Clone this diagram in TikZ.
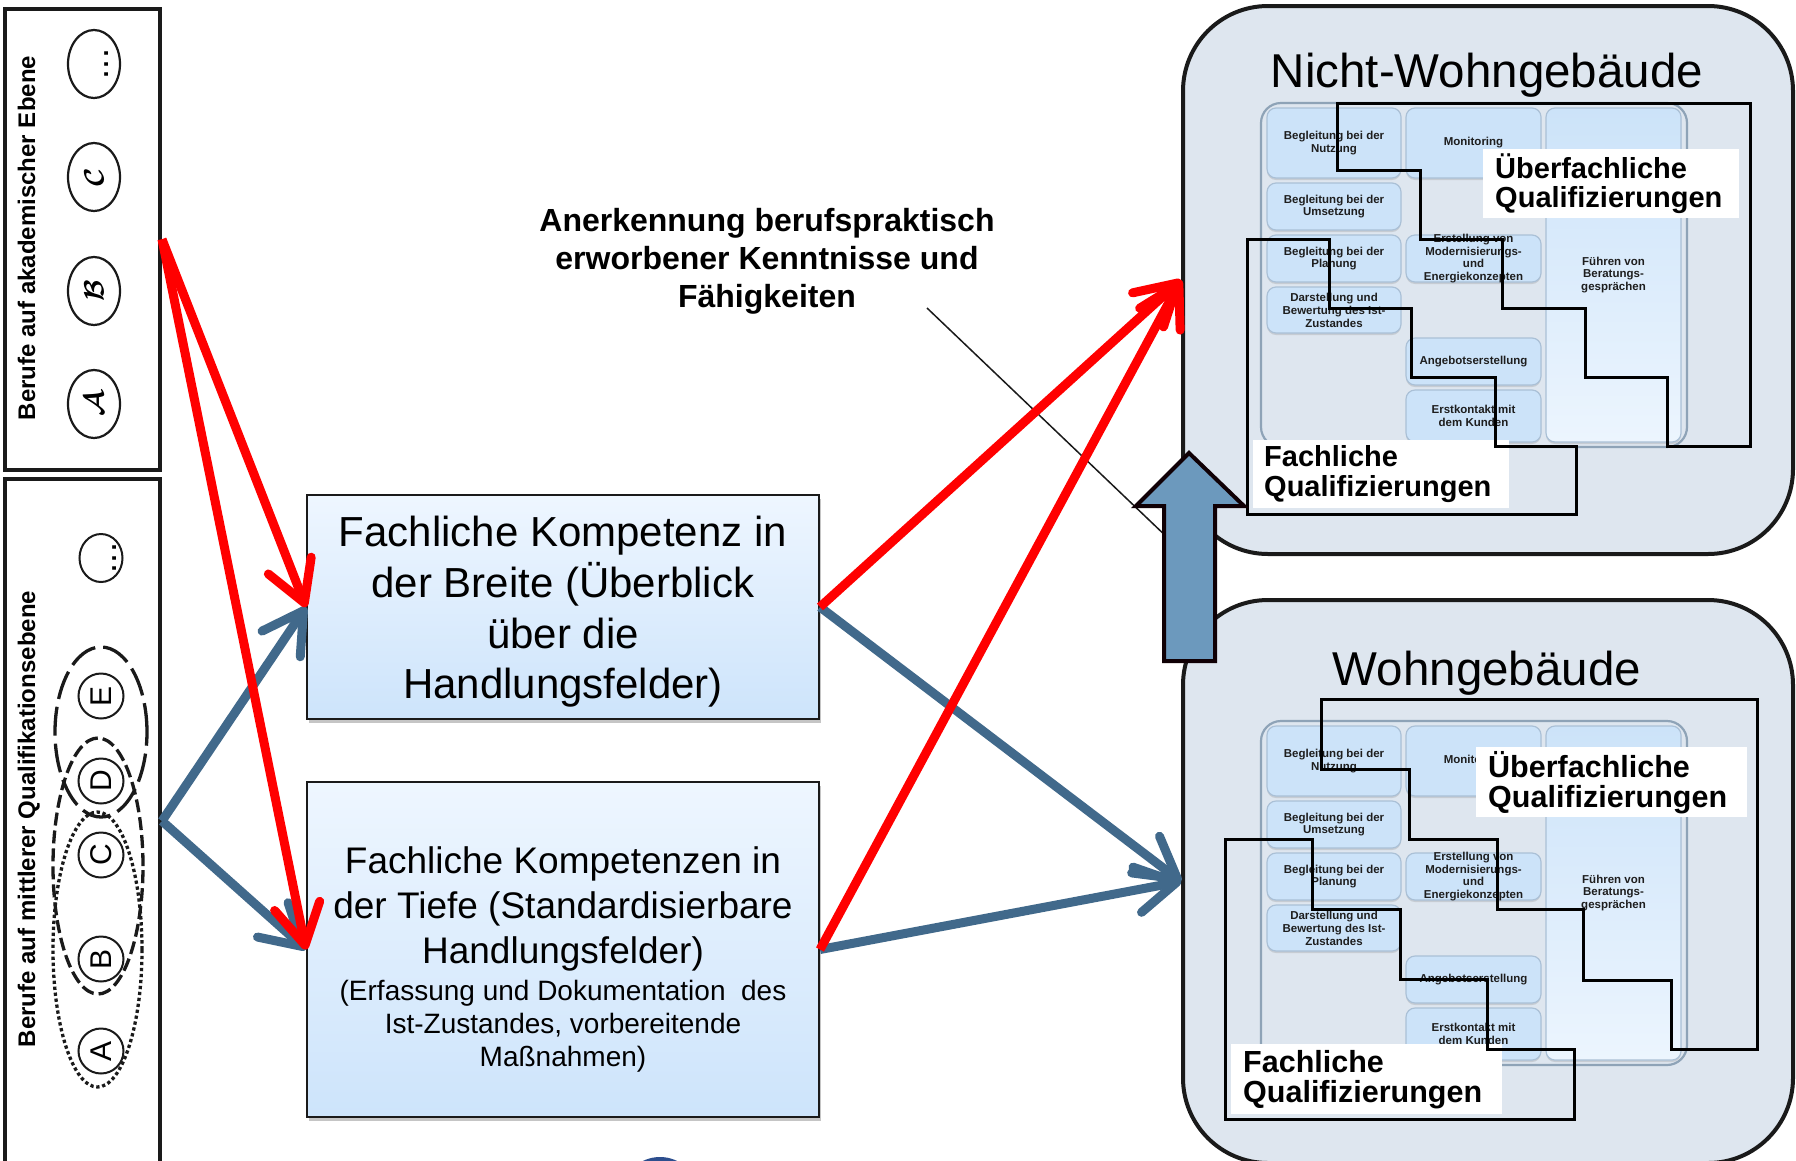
\documentclass[tikz,border=0pt]{standalone}
\usepackage{fontspec}
\setmainfont{Liberation Sans}
\usetikzlibrary{arrows.meta,shadows,shapes.geometric,calc}

\definecolor{redarr}{RGB}{255,0,0}
\definecolor{bluearr}{RGB}{65,105,139}
\definecolor{bigfill}{RGB}{108,153,189}
\definecolor{bigedge}{RGB}{16,0,5}
\definecolor{panelbg}{RGB}{222,230,239}
\definecolor{gridedge}{RGB}{142,163,183}
\definecolor{cellfill}{RGB}{204,227,249}
\definecolor{cellpale}{RGB}{236,245,254}
\definecolor{celledge}{RGB}{170,192,214}
\definecolor{celltxt}{RGB}{30,30,30}
\definecolor{kompTop}{RGB}{238,246,255}
\definecolor{kompBot}{RGB}{205,228,251}
\definecolor{frame}{RGB}{26,26,26}
\definecolor{navy}{RGB}{45,78,142}

% one cell of the task grid: name, x, y, width, height, extra style, text
\newcommand{\cellbox}[7]{%
  \node[cell,#6,minimum width=#4pt,minimum height=#5pt] (#1) at (#2,#3) {};
  \node[celltext] (#1t) at (#2,#3) {#7};}

% the whole task grid of one building type, name prefix #1
\newcommand{\taskgrid}[1]{%
  \node[gridframe, minimum width=426pt, minimum height=344pt] (#1grid) at (1474,275) {};
  \cellbox{#1L1}{1334}{143}{134}{70}{}{Begleitung bei der\\Nutzung}
  \cellbox{#1L2}{1334}{206.5}{134}{47}{}{Begleitung bei der\\Umsetzung}
  \cellbox{#1L3}{1334}{258.5}{134}{47}{}{Begleitung bei der\\Planung}
  \cellbox{#1L4}{1334}{310}{134}{46}{}{Darstellung und\\Bewertung des Ist-\\Zustandes}
  \cellbox{#1M1}{1473.5}{143}{135}{70}{}{Monitoring}
  \cellbox{#1M3}{1473.5}{258.5}{135}{47}{}{Erstellung von\\Modernisierungs-\\und\\Energiekonzepten}
  \cellbox{#1M5}{1473.5}{361.5}{135}{47}{}{Angebotserstellung}
  \cellbox{#1M6}{1473.5}{416}{135}{52}{}{Erstkontakt mit\\dem Kunden}
  \cellbox{#1R}{1613.5}{275}{135}{334}{top color=cellfill, bottom color=cellpale}{Führen von\\Beratungs-\\gesprächen}}

% bold calligraphic initial, enlarged
\newcommand{\calinit}[1]{\scalebox{2.8}{\boldmath$\mathcal{#1}$}}

\begin{document}
\begin{tikzpicture}[x=1pt, y=-1pt,
  sidebox/.style={draw=frame, line width=4pt, fill=white, minimum width=155pt, inner sep=0pt},
  sidetitle/.style={rotate=90, anchor=base, inner sep=0pt, font=\bfseries\fontsize{24}{28}\selectfont},
  akadoval/.style={ellipse, draw=frame, line width=2.2pt, rotate=90, minimum width=68pt, minimum height=52pt, inner sep=0pt},
  qualoval/.style={ellipse, draw=frame, line width=2pt, rotate=90, minimum width=45pt, minimum height=45pt, inner sep=0pt, font=\fontsize{30}{32}\selectfont},
  dotsmark/.style={rotate=90, anchor=base, inner sep=0pt, font=\fontsize{36}{36}\selectfont},
  groupdot/.style={draw=frame, line width=3.3pt, dash pattern=on 3.3pt off 2.7pt},
  groupdash/.style={draw=frame, line width=3.3pt, dash pattern=on 13pt off 5pt},
  grouplong/.style={draw=frame, line width=3.3pt, dash pattern=on 29pt off 8pt},
  kompbox/.style={draw=frame, line width=2pt, top color=kompTop, bottom color=kompBot, inner sep=0pt,
    drop shadow={opacity=0.45, shadow xshift=2pt, shadow yshift=-4pt}},
  houseframe/.style={draw=frame, line width=4pt, fill=panelbg, rounded corners=85pt, inner sep=0pt},
  housetitle/.style={anchor=base, inner sep=0pt, font=\fontsize{47.5}{50}\selectfont},
  gridframe/.style={draw=gridedge, line width=2.2pt, fill=panelbg, rounded corners=20pt, inner sep=0pt},
  cell/.style={draw=celledge, line width=1.2pt, fill=cellfill, rounded corners=9pt, inner sep=0pt,
    drop shadow={opacity=0.25, shadow xshift=0pt, shadow yshift=-2pt}},
  celltext/.style={font=\bfseries\fontsize{11.5}{12.9}\selectfont, text=celltxt, align=center, inner sep=0pt},
  qlabel/.style={fill=white, inner xsep=12pt, inner ysep=0pt, align=left, anchor=north west},
  qline/.style={draw=black, line width=3pt},
  redarrow/.style={draw=redarr, line width=9pt, -{Straight Barb[length=40pt,width=46pt,round]}},
  bluearrow/.style={draw=bluearr, line width=9pt, -{Straight Barb[length=40pt,width=46pt,round]}}
]
\useasboundingbox (0,0) rectangle (1796,1160);
\clip (0,0) rectangle (1796,1160);
\fill[white] (0,0) rectangle (1796,1160);

% ---------- left column: academic professions ----------
\node[sidebox, minimum height=461.5pt] (akad) at (82.5,239.25) {};
\node[sidetitle] (akadtitle) at (35,238) {Berufe auf akademischer Ebene};
\node[akadoval] (akA) at (94,404) {\calinit{A}};
\node[akadoval] (akB) at (94,291) {\calinit{B}};
\node[akadoval] (akC) at (94,177) {\calinit{C}};
\node[akadoval] (akX) at (94,64) {};
\node[dotsmark] (akXt) at (108,64) {...};

% ---------- left column: intermediate qualification level ----------
\node[sidebox, minimum height=684pt] (mittel) at (82.5,821) {};
\node[sidetitle] (mitteltitle) at (35,819) {Berufe auf mittlerer Qualifikationsebene};
\draw[groupdot] (97.5,949.5) ellipse [x radius=44.5pt, y radius=137.5pt];
\draw[groupdash] (98,866) ellipse [x radius=45pt, y radius=128pt];
\draw[grouplong] (101,732) ellipse [x radius=46pt, y radius=85pt];
\node[qualoval] (qA) at (101,1051) {A};
\node[qualoval] (qB) at (101,959) {B};
\node[qualoval] (qC) at (101,855) {C};
\node[qualoval] (qD) at (101,781) {D};
\node[qualoval] (qE) at (101,696) {E};
\node[qualoval, minimum width=48pt, minimum height=43pt] (qX) at (101,558) {};
\node[dotsmark] (qXt) at (116,558) {...};

% ---------- competence boxes ----------
\node[kompbox, minimum width=512pt, minimum height=224pt] (breite) at (563,607) {};
\node[align=center, inner sep=0pt, font=\fontsize{42}{50.7}\selectfont] (breitet) at (563,612)
  {Fachliche Kompetenz in\\der Breite (Überblick\\über die\\Handlungsfelder)};
\node[kompbox, minimum width=512pt, minimum height=335pt] (tiefe) at (563,949.5) {};
\node[align=center, inner sep=0pt, font=\fontsize{37}{45}\selectfont] (tiefet) at (563,909)
  {Fachliche Kompetenzen in\\der Tiefe (Standardisierbare\\Handlungsfelder)};
\node[align=center, inner sep=0pt, font=\fontsize{28}{33}\selectfont] (tiefes) at (563,1026)
  {(Erfassung und Dokumentation~ des\\Ist-Zustandes, vorbereitende\\Maßnahmen)};

% ---------- recognition label ----------
\node[align=center, inner sep=0pt, font=\bfseries\fontsize{32}{38}\selectfont] (anerk) at (767,261)
  {Anerkennung berufspraktisch\\erworbener Kenntnisse und\\Fähigkeiten};

% ---------- building panels ----------
\node[houseframe, minimum width=610pt, minimum height=548pt] (nwg) at (1488,280) {};
\node[houseframe, minimum width=610pt, minimum height=563pt] (wg) at (1488,881.5) {};
\node[housetitle] (nwgtitle) at (1487,87) {Nicht-Wohngebäude};
\node[housetitle] (wgtitle) at (1487,685) {Wohngebäude};

\begin{scope}
  \taskgrid{n}
\end{scope}
\begin{scope}[shift={(0,618)}]
  \taskgrid{w}
\end{scope}

% white qualification labels
\node[qlabel, minimum width=256pt, minimum height=69pt, text width=232pt,
  font=\bfseries\fontsize{29}{29.3}\selectfont] (nUq) at (1483,149) {Überfachliche\\Qualifizierungen};
\node[qlabel, inner xsep=11pt, minimum width=256pt, minimum height=68pt, text width=234pt,
  font=\bfseries\fontsize{29}{29.3}\selectfont] (nFq) at (1253,440) {Fachliche\\Qualifizierungen};
\node[qlabel, minimum width=271pt, minimum height=70pt, text width=247pt,
  font=\bfseries\fontsize{30.5}{30}\selectfont] (wUq) at (1476,747) {Überfachliche\\Qualifizierungen};
\node[qlabel, minimum width=271pt, minimum height=70pt, text width=247pt,
  font=\bfseries\fontsize{30.5}{30}\selectfont] (wFq) at (1231,1044) {Fachliche\\Qualifizierungen};

% stepped outlines of the qualification areas
\draw[qline] (1337,103) -- (1750,103) -- (1750,446) -- (1667,446) -- (1667,377) -- (1585,377)
  -- (1585,308) -- (1502,308) -- (1502,239) -- (1420,239) -- (1420,170) -- (1337,170) -- cycle;
\draw[qline] (1247,239) -- (1329,239) -- (1329,308) -- (1411,308) -- (1411,377) -- (1495,377)
  -- (1495,446) -- (1576,446) -- (1576,514) -- (1247,514) -- cycle;
\draw[qline] (1321,699) -- (1757,699) -- (1757,1049) -- (1671,1049) -- (1671,980) -- (1583,980)
  -- (1583,909) -- (1497,909) -- (1497,839) -- (1409,839) -- (1409,769) -- (1321,769) -- cycle;
\draw[qline] (1225,839) -- (1312,839) -- (1312,909) -- (1400,909) -- (1400,979) -- (1487,979)
  -- (1487,1049) -- (1574,1049) -- (1574,1119) -- (1225,1119) -- cycle;

% callout line from the recognition label
\coordinate (callA) at (927,308);
\coordinate (callB) at (1170,540);
\draw[frame, line width=1.5pt] (callA) -- (callB);

% block arrow between the panels
\draw[draw=bigedge, fill=bigfill, line width=4pt, line join=miter]
  (1189,453) -- (1244,506) -- (1215,506) -- (1215,661) -- (1164,661) -- (1164,506) -- (1136,506) -- cycle;

% partly visible disc at the lower edge
\fill[navy] (660,1190) ellipse [x radius=36pt, y radius=33pt];

% ---------- connectors ----------
\draw[bluearrow] (mittel.east) -- (breite.west);
\draw[bluearrow] (mittel.east) -- (tiefe.west);
\draw[bluearrow] (breite.east) -- (wg.west);
\draw[bluearrow] (tiefe.east) -- (wg.west);
\draw[redarrow] (akad.east) -- (breite.west);
\draw[redarrow] (akad.east) -- (tiefe.west);
\draw[redarrow] (breite.east) -- (nwg.west);
\draw[redarrow] (tiefe.east) -- (nwg.west);
\end{tikzpicture}
\end{document}
